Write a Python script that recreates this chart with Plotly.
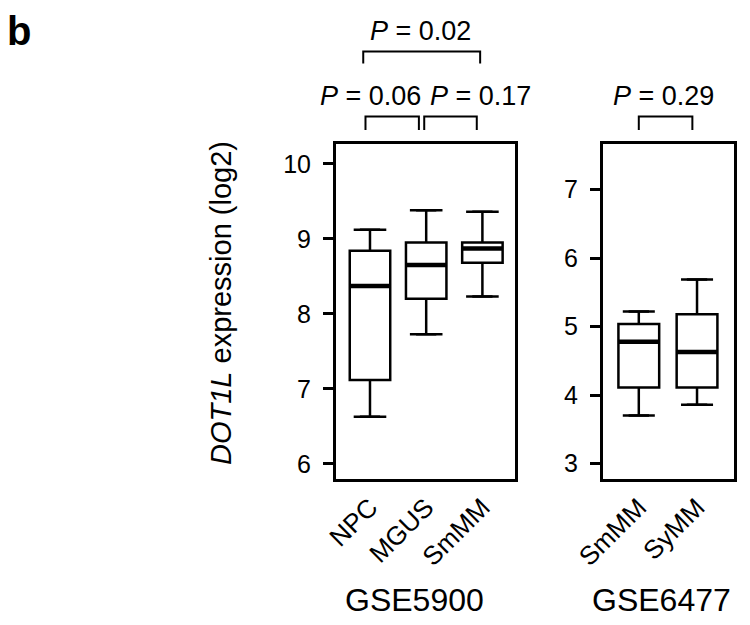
import plotly.graph_objects as go

# ---------------- data ----------------
groups1 = ["NPC", "MGUS", "SmMM"]
lower1 = [6.63, 7.73, 8.23]
q1_1 = [7.12, 8.20, 8.68]
med1 = [8.37, 8.65, 8.87]
q3_1 = [8.84, 8.95, 8.95]
upper1 = [9.12, 9.38, 9.36]

groups2 = ["SmMM", "SyMM"]
lower2 = [3.70, 3.86]
q1_2 = [4.11, 4.11]
med2 = [4.78, 4.63]
q3_2 = [5.04, 5.18]
upper2 = [5.22, 5.69]

yticks1 = [6, 7, 8, 9, 10]
yticks2 = [3, 4, 5, 6, 7]

dataset_labels = ["GSE5900", "GSE6477"]
ytitle = "<i>DOT1L</i> expression (log2)"

# comparisons: (axis, i, j, label, level)
comparisons = [
    ("x", 0, 1, "0.06", 0),
    ("x", 1, 2, "0.17", 0),
    ("x", 0, 2, "0.02", 1),
    ("x2", 0, 1, "0.29", 0),
]

FONT = "Liberation Sans, Arial, sans-serif"
LW = 2.5

fig = go.Figure()


def add_panel(xa, ya, groups, lo, q1, med, q3, up, bw, cap):
    pos = list(range(len(groups)))
    fig.add_trace(go.Box(
        x=pos, q1=q1, median=med, q3=q3, lowerfence=lo, upperfence=up,
        width=bw, fillcolor="white", line=dict(color="black", width=LW),
        boxpoints=False, showlegend=False, hoverinfo="skip",
        xaxis=xa, yaxis=ya))
    cx, cy = [], []
    for p, l, u in zip(pos, lo, up):
        cx += [p - cap, p + cap, None, p - cap, p + cap, None]
        cy += [u, u, None, l, l, None]
    fig.add_trace(go.Scatter(x=cx, y=cy, mode="lines",
                             line=dict(color="black", width=LW),
                             showlegend=False, hoverinfo="skip",
                             xaxis=xa, yaxis=ya))
    mx, my = [], []
    for p, m in zip(pos, med):
        mx += [p - bw / 2, p + bw / 2, None]
        my += [m, m, None]
    fig.add_trace(go.Scatter(x=mx, y=my, mode="lines",
                             line=dict(color="black", width=4.5),
                             showlegend=False, hoverinfo="skip",
                             xaxis=xa, yaxis=ya))


add_panel("x", "y", groups1, lower1, q1_1, med1, q3_1, upper1, 0.72, 0.29)
add_panel("x2", "y2", groups2, lower2, q1_2, med2, q3_2, upper2, 0.70, 0.275)

W, H = 750, 625
ydom = [1 - 479 / H, 1 - 143.5 / H]

common_x = dict(showline=True, mirror=True, linecolor="black", linewidth=LW,
                ticks="", showgrid=False, zeroline=False, tickangle=-45,
                tickfont=dict(family=FONT, size=26, color="black"),
                automargin=False)
common_y = dict(showline=True, mirror=True, linecolor="black", linewidth=LW,
                ticks="outside", ticklen=10, tickwidth=LW, tickcolor="black",
                showgrid=False, zeroline=False,
                tickfont=dict(family=FONT, size=25, color="black"),
                ticklabelstandoff=7, automargin=False)

fig.update_layout(
    width=W, height=H, autosize=False,
    margin=dict(l=0, r=0, t=0, b=0),
    plot_bgcolor="white", paper_bgcolor="white",
    font=dict(family=FONT, color="black"),
    xaxis=dict(domain=[335.7 / W, 515 / W], range=[-0.61, 2.58], anchor="y",
               tickvals=list(range(len(groups1))), ticktext=groups1, **common_x),
    yaxis=dict(domain=ydom, range=[5.80, 10.27], anchor="x",
               tickvals=yticks1, **common_y),
    xaxis2=dict(domain=[602.7 / W, 734.3 / W], range=[-0.62, 1.64], anchor="y2",
                tickvals=list(range(len(groups2))), ticktext=groups2, **common_x),
    yaxis2=dict(domain=ydom, range=[2.774, 7.675], anchor="x2",
                tickvals=yticks2, **common_y),
)

# brackets and P-values
level_y = {0: (130 / H, 116.5 / H, 96 / H), 1: (63.5 / H, 51.5 / H, 31 / H)}
text_pos = {("x", "0.06"): 0.01, ("x", "0.17"): 1.97, ("x", "0.02"): 0.89,
            ("x2", "0.29"): 0.43}
for xa, i, j, lab, lev in comparisons:
    yb, yt, ytxt = level_y[lev]
    if xa == "x":
        x0 = i - (0.12 if lev == 1 else (0.08 if i == 0 else 0.035))
        x1 = j - (0.04 if lev == 1 else (0.13 if j == 1 else 0.10))
    else:
        x0, x1 = i + 0.0, j - 0.08
    fig.add_shape(type="path",
                  path=f"M {x0},{1 - yb} L {x0},{1 - yt} L {x1},{1 - yt} L {x1},{1 - yb}",
                  xref=xa, yref="paper", line=dict(color="black", width=2))
    fig.add_annotation(x=text_pos[(xa, lab)], y=1 - ytxt, xref=xa, yref="paper",
                       text=f"<i>P</i> = {lab}", showarrow=False,
                       xanchor="center", yanchor="middle",
                       font=dict(family=FONT, size=27, color="black"))

# dataset labels
for xa, lab, xc in [("x", dataset_labels[0], 414), ("x2", dataset_labels[1], 661)]:
    fig.add_annotation(x=xc / W, y=1 - 600 / H, xref="paper", yref="paper",
                       text=lab, showarrow=False, xanchor="center", yanchor="middle",
                       font=dict(family=FONT, size=32, color="black"))

# y title
fig.add_annotation(x=221 / W, y=1 - 303 / H, xref="paper", yref="paper",
                   text=ytitle, textangle=-90, showarrow=False,
                   xanchor="center", yanchor="middle",
                   font=dict(family=FONT, size=29, color="black"))

# panel letter
fig.add_annotation(x=5 / W, y=1 - 31 / H, xref="paper", yref="paper",
                   text="<b>b</b>", showarrow=False, xanchor="left", yanchor="middle",
                   font=dict(family=FONT, size=40, color="black"))

fig.write_html("out.html")
